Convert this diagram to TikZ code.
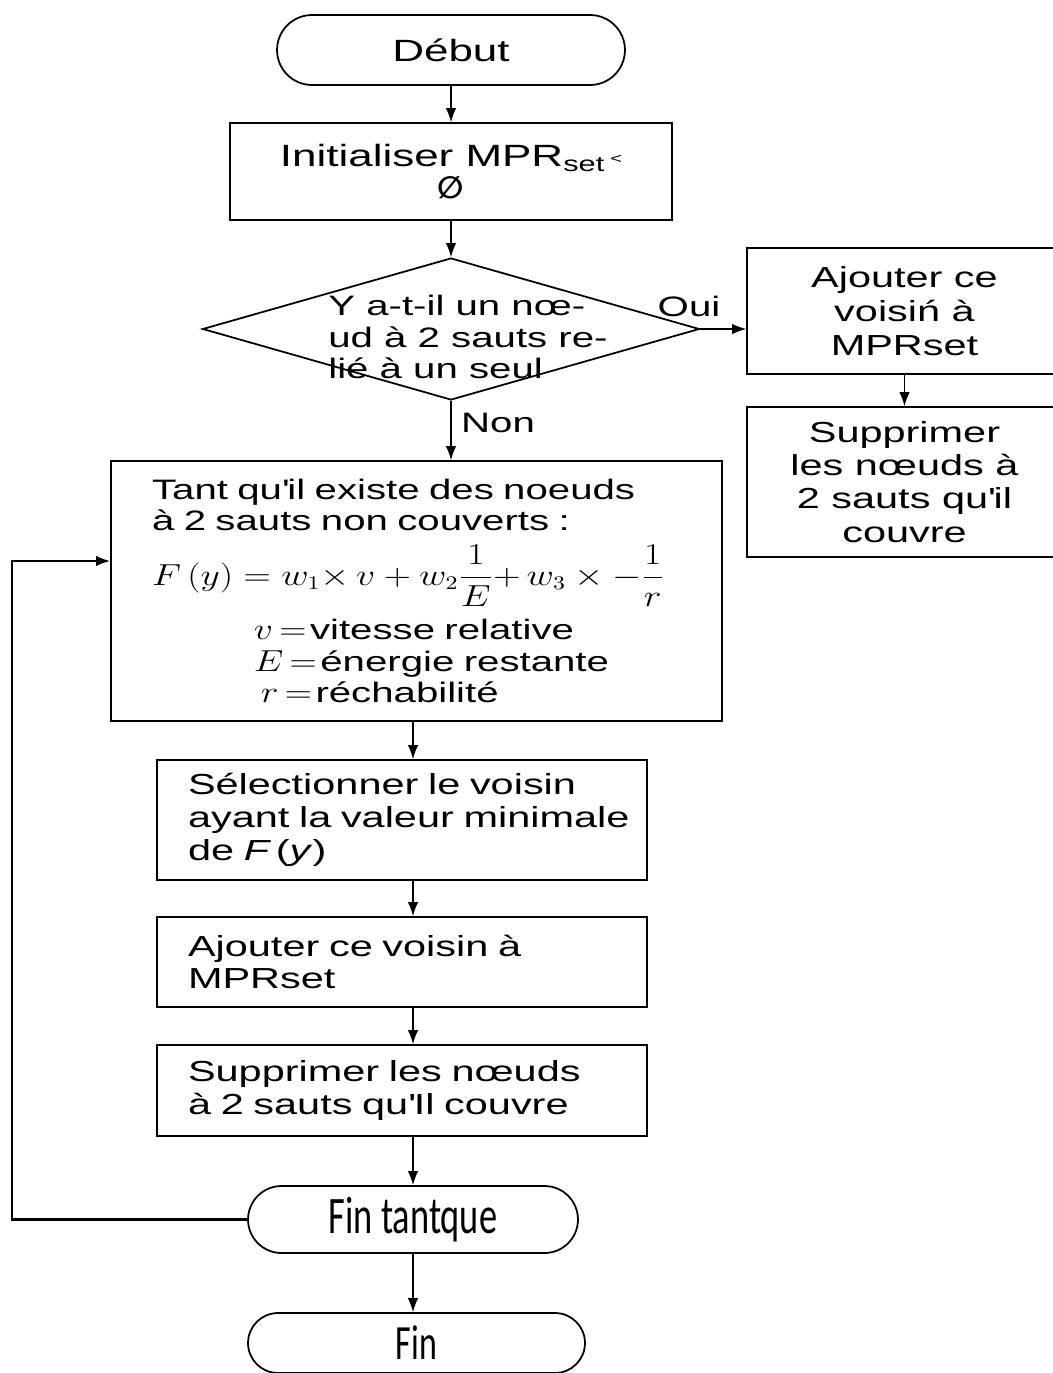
\documentclass[tikz,border=0pt]{standalone}
\usepackage{amsmath}
\usepackage{graphicx}
\usepackage[no-math]{fontspec}
\setmainfont{Liberation Sans}[FakeStretch=1.43]
\newfontfamily\calfont{Carlito}[FakeStretch=0.69]
\newfontfamily\symfont{DejaVu Sans}
\usetikzlibrary{arrows.meta,shapes.geometric}
\newcommand\setfs[2]{\fontsize{#1}{#2}\selectfont}
\newcommand\mx[1]{\scalebox{1.24}[1]{$#1$}}
\newcommand\ap{\textquotesingle}
\begin{document}
\begin{tikzpicture}[x=0.02cm,y=-0.02cm,
  base/.style={draw, line width=1pt, inner sep=0pt},
  proc/.style={base, rectangle},
  term/.style={base, rectangle},
  dia/.style={base, diamond},
  flow/.style={-{Latex[length=8pt,width=6pt]}, line width=0.8pt},
  lbl/.style={inner sep=0pt, font=\setfs{16}{18}}]
\useasboundingbox (0,0) rectangle (1052,1373);

\node[term, rounded corners=0.7cm, minimum width=6.96cm, minimum height=1.4cm, font=\setfs{17.5}{20}] (debut) at (451,50) {Début};

\node[proc, minimum width=8.84cm, minimum height=1.94cm, align=center, font=\setfs{17.5}{18}] (init) at (451,171.5)
  {Initialiser MPR\textsubscript{set}\,\raisebox{2pt}{\footnotesize<}\\{\symfont\bfseries ∅}};

\node[dia, minimum width=9.94cm, minimum height=2.84cm] (dec) at (451,329) {};
\node[lbl, anchor=west, align=left] (dectext) at (328,337) {Y a-t-il un nœ-\\ud à 2 sauts re-\\lié à un seul};
\node[lbl] (oui) at (689,306) {Oui};
\node[lbl] (non) at (498,423) {Non};

\node[proc, minimum width=6.3cm, minimum height=2.52cm, align=center, font=\setfs{16.5}{19.5}] (ajr) at (904.5,311)
  {Ajouter ce\\voisiń à\\MPRset};
\node[proc, minimum width=6.3cm, minimum height=3.0cm, align=center, font=\setfs{16.5}{18.9}] (supr) at (904.5,482)
  {Supprimer\\les nœuds à\\2 sauts qu\ap il\\couvre};

\node[proc, minimum width=12.22cm, minimum height=5.2cm, text width=10.58cm, align=left, font=\setfs{16}{18}] (tant) at (416.5,591)
  {Tant qu\ap il existe des noeuds\\
   à 2 sauts non couverts :\\[13pt]
   \smash{\mx{F\,(y) = w_1{\times}\, v + w_2\dfrac{1}{E}{+}\, w_3\times -\dfrac{1}{r}}}\\[13pt]
   \hspace*{58pt}\mx{v\,{=}}\kern2pt vitesse relative\\
   \hspace*{58pt}\mx{E\,{=}}\kern2pt énergie restante\\
   \hspace*{62pt}\mx{r\,{=}}\kern2pt réchabilité};

\node[proc, minimum width=9.8cm, minimum height=2.4cm, text width=8.56cm, align=left, font=\setfs{16.5}{18.7}] (sel) at (402,820)
  {\mbox{Sélectionner le voisin}\\\mbox{ayant la valeur minimale}\\\mbox{de \textit{F}\,(\textit{y})}};
\node[proc, minimum width=9.8cm, minimum height=1.8cm, text width=8.56cm, align=left, font=\setfs{16.5}{18.7}] (aj2) at (402,962)
  {\mbox{Ajouter ce voisin à}\\\mbox{MPRset}};
\node[proc, minimum width=9.8cm, minimum height=1.82cm, text width=8.56cm, align=left, font=\setfs{16.5}{18.7}] (sup2) at (402,1090.5)
  {\mbox{Supprimer les nœuds}\\\mbox{à 2 sauts qu\ap Il couvre}};

\node[term, rounded corners=0.67cm, minimum width=6.6cm, minimum height=1.34cm, font=\calfont\setfs{30}{32}] (fint) at (413,1219.5) {Fin tantque};
\node[term, rounded corners=0.6cm, minimum width=6.74cm, minimum height=1.2cm, font=\calfont\setfs{28}{30}] (fin) at (416.5,1343) {Fin};

\coordinate (col) at (413,0);
\coordinate (loop) at (12,561);

\draw[flow] (debut) -- (init);
\draw[flow] (init) -- (dec);
\draw[flow] (dec.east) -- (dec.east -| ajr.west);
\draw[flow] (ajr) -- (supr);
\draw[flow] (dec.south) -- (dec.south |- tant.north);
\draw[flow] (tant.south -| col) -- (sel.north -| col);
\draw[flow] (sel.south -| col) -- (aj2.north -| col);
\draw[flow] (aj2.south -| col) -- (sup2.north -| col);
\draw[flow] (sup2.south -| col) -- (fint.north -| col);
\draw[flow] (fint.south -| col) -- (fin.north -| col);
\draw[flow, line width=1.2pt] (fint.west) -| (loop) -- (loop -| tant.west);
\end{tikzpicture}
\end{document}
